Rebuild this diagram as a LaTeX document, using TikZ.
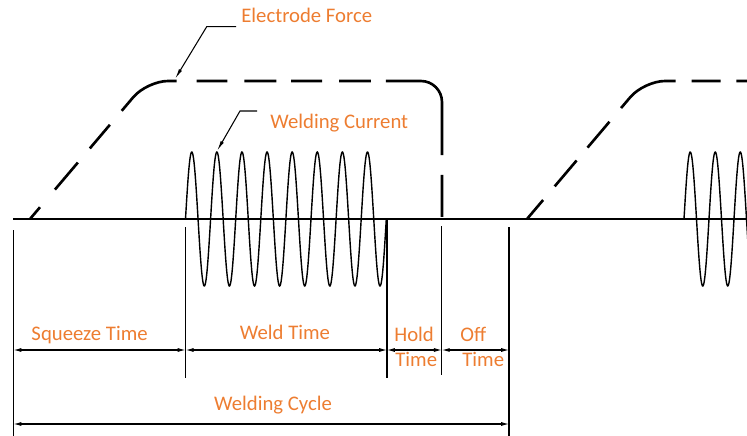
\documentclass[tikz,border=0pt]{standalone}
\usepackage{fontspec}
\setmainfont{Carlito}
\usetikzlibrary{arrows.meta}
\definecolor{lblorange}{RGB}{237,125,49}

\begin{document}
\begin{tikzpicture}[
  x=0.02cm, y=-0.02cm,
  lbl/.style={text=lblorange, font=\fontsize{11.8}{14}\selectfont, inner sep=0pt, anchor=base},
  axis/.style={line width=1.1pt},
  force/.style={line width=1.5pt, rounded corners=12pt},
  current/.style={line width=0.8pt},
  tick/.style={line width=0.6pt},
  dim/.style={line width=0.6pt, {Latex[length=4.5pt,width=2.3pt]}-{Latex[length=4.5pt,width=2.3pt]}},
  lead/.style={line width=0.6pt, -{Latex[length=6pt,width=2pt]}}
]
  \useasboundingbox (0,0) rectangle (747,436);
  \clip (0,0) rectangle (747,436);

  % time axis
  \draw[axis] (13,219) -- (747,219);

  % electrode force, first and second cycle
  \draw[force, dash pattern=on 8.79pt off 13.15pt on 20.18pt off 10.54pt on 17.63pt off 10.43pt
        on 37.47pt off 11.34pt on 17.57pt off 9.64pt on 18.14pt off 8.5pt on 17.57pt off 9.64pt
        on 18.14pt off 8.5pt on 68.94pt off 11.34pt on 23.81pt]
    (30,219) -- (147,81) -- (442,81) -- (442,219);
  \draw[force, dash pattern=on 14.17pt off 10.2pt on 19.28pt off 9.64pt on 19.28pt off 10.2pt
        on 36.57pt off 9.07pt on 16.44pt off 9.07pt on 22.68pt]
    (527,219) -- (644,81) -- (760,81);
  \coordinate (ftip) at (175,79);

  % welding current
  \draw[current] plot[domain=0:8, samples=400] ({185.5+25.1*\x}, {219-67*sin(360*\x)});
  \draw[current] plot[domain=0:2.6, samples=150] ({684+25*\x}, {219-67*sin(360*\x)});
  \coordinate (ctip) at (217,151);

  % labels with leaders
  \node[lbl, anchor=base west] (lforce) at (241,22.7) {Electrode Force};
  \node[lbl, anchor=base west] (lcurr) at (270,128.5) {Welding Current};
  \draw[lead] (lforce.base west) ++(-5,4) -- ++(-29.3,0) -- (ftip);
  \draw[lead] (lcurr.base west) ++(-13,-17.5) -- ++(-17,0) -- (ctip);

  % extension lines
  \draw[tick] (13.5,230) -- (13.5,436) coordinate (tA);
  \draw[tick] (185.6,227) -- (185.6,378) coordinate (tB);
  \draw[tick] (387,220) -- (387,378) coordinate (tC);
  \draw[tick] (441.8,226) -- (441.8,375) coordinate (tD);
  \draw[tick] (509,227) -- (509,436) coordinate (tE);
  \coordinate (rowT) at (0,350);
  \coordinate (rowC) at (0,424);

  % time intervals
  \draw[dim] (tA |- rowT) -- (tB |- rowT);
  \draw[dim] (tB |- rowT) -- (tC |- rowT);
  \draw[dim] (tC |- rowT) -- (tD |- rowT);
  \draw[dim] (tD |- rowT) -- (tE |- rowT);
  \draw[dim] (tA |- rowC) -- (tE |- rowC);

  \node[lbl] (lsqz) at (89.6,340) {Squeeze Time};
  \node[lbl] (lweld) at (285,339.6) {Weld Time};
  \node[lbl, anchor=base west] (lhold) at (394,341.7) {Hold};
  \node[lbl, anchor=base west] (lholdt) at (395,366.7) {Time};
  \node[lbl, anchor=base west] (loff) at (460,341.7) {Off};
  \node[lbl, anchor=base west] (lofft) at (462,366.7) {Time};
  \node[lbl] (lcycle) at (273,410.3) {Welding Cycle};
\end{tikzpicture}
\end{document}
